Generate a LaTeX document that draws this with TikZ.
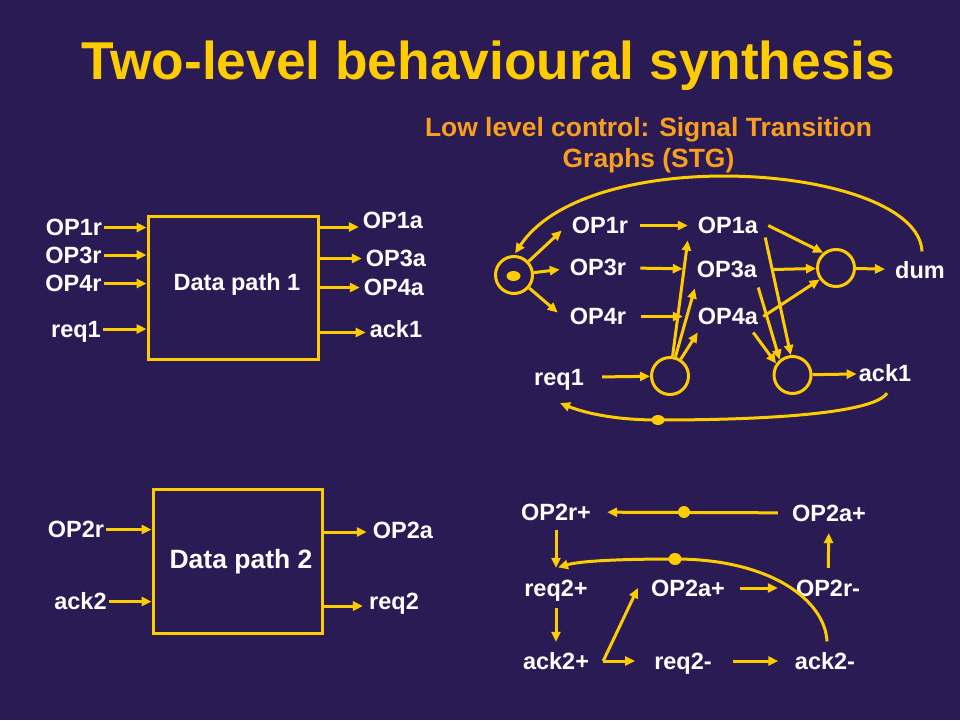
\documentclass[tikz,border=0pt]{standalone}
\usepackage{fontspec}
\setmainfont{Liberation Sans}
\usetikzlibrary{arrows.meta,calc,positioning,shapes.geometric}
\definecolor{slidebg}{RGB}{43,27,85}
\definecolor{gold}{RGB}{255,204,0}
\definecolor{subhead}{RGB}{250,160,30}
\tikzset{
  lbl/.style={text=white, font=\bfseries\fontsize{23.5}{28}\selectfont, inner sep=2pt, text height=16.8pt, text depth=0pt},
  arr/.style={draw=gold, line width=3pt, -{Triangle[length=10pt,width=9pt]}},
  place/.style={circle, draw=gold, line width=3pt, minimum size=37pt, inner sep=0pt},
  token/.style={ellipse, fill=gold, minimum width=13pt, minimum height=10pt, inner sep=0pt},
  dpbox/.style={draw=gold, line width=3pt}
}

\begin{document}
\begin{tikzpicture}[x=1pt, y=-1pt]
  \fill[slidebg] (0,0) rectangle (960,720);
  \useasboundingbox (0,0) rectangle (960,720);

  \node[text=gold, font=\bfseries\fontsize{53.3}{60}\selectfont] (title) at (488.5,66) {Two-level behavioural synthesis};
  \node[text=subhead, align=center, font=\bfseries\fontsize{26.4}{31}\selectfont] (sub) at (648.5,145) {Low level control: Signal Transition\\Graphs (STG)};

  % data path 1
  \node[dpbox, minimum width=170pt, minimum height=143pt] (dp1) at (233,287.5) {};
  \node[lbl] (dp1t) at (237,282.5) {Data path 1};

  \foreach \n/\t/\x/\y in {i1/OP1r/74/227.5, i3/OP3r/73.5/255, i4/OP4r/73.5/283.5, iq/req1/76/329} {
    \node[lbl] (\n) at (\x,\y) {\t};
    \draw[arr] (\n) -- (\n -| dp1.west);
  }

  \foreach \n/\t/\x/\y/\s in {o1/OP1a/393/220/7, o3/OP3a/396/258.5/0, o4/OP4a/394/287.5/0, ok/ack1/396/329.5/3} {
    \node[lbl] (\n) at (\x,\y) {\t};
    \draw[arr, shorten >=2pt] ($(\n.west -| dp1.east)+(0,\s)$) -- ($(\n.west)+(0,\s)$);
  }

  % data path 2
  \node[dpbox, minimum width=169pt, minimum height=144pt] (dp2) at (237.5,561) {};
  \node[lbl, font=\bfseries\fontsize{26.5}{30}\selectfont, text height=19pt] (dp2t) at (241,559) {Data path 2};

  \foreach \n/\t/\x/\y in {i2/OP2r/76/529.5, ia/ack2/80.5/601.5} {
    \node[lbl] (\n) at (\x,\y) {\t};
    \draw[arr] (\n) -- (\n -| dp2.west);
  }

  \foreach \n/\t/\x/\y/\s in {o2/OP2a/403/530.5/1.5, oq/req2/394/601.5/4.5} {
    \node[lbl] (\n) at (\x,\y) {\t};
    \draw[arr, shorten >=4pt] ($(\n.west -| dp2.east)+(0,\s)$) -- ($(\n.west)+(0,\s)$);
  }

  % STG of data path 1
  \node[place] (p0) at (514,275) {};
  \node[token, minimum width=14pt] (tk0) at (513.5,276) {};
  \node[place] (pd) at (836,268) {};
  \node[place] (pq) at (670,376) {};
  \node[place] (pk) at (792.5,375) {};

  \node[lbl] (s1r) at (600,225.5) {OP1r};
  \node[lbl] (s3r) at (598,267.5) {OP3r};
  \node[lbl] (s4r) at (598,316.5) {OP4r};
  \node[lbl] (s1a) at (728,225.5) {OP1a};
  \node[lbl] (s3a) at (727,269.5) {OP3a};
  \node[lbl] (s4a) at (728,316.5) {OP4a};
  \node[lbl] (dum) at (920,270) {dum};
  \node[lbl] (rq1) at (559,377.5) {req1};
  \node[lbl] (ak1) at (885,373.5) {ack1};

  \draw[arr] (p0) -- ([shift={(-8pt,-5pt)}]s1r.west);
  \draw[arr] (p0) -- ([shift={(-8pt,-2pt)}]s3r.west);
  \draw[arr] (p0) -- ([shift={(-10pt,4pt)}]s4r.west);

  \draw[arr, shorten <=10pt, shorten >=8pt] (s1r) -- (s1a);
  \draw[arr, shorten <=12pt, shorten >=12pt] (s3r) -- (s3a);
  \draw[arr, shorten <=13pt, shorten >=13pt] (s4r) -- (s4a);

  \draw[arr, shorten <=16pt] (rq1) -- (pq);
  \draw[arr] (pq) -- ([shift={(-8pt,-15pt)}]s1a.west);
  \draw[arr] (pq) -- ([shift={(0pt,-19pt)}]s3a.west);
  \draw[arr] (pq) -- ([shift={(2pt,-16pt)}]s4a.west);

  \draw[arr] ([xshift=8pt]s1a.east) -- (pd.130);
  \draw[arr] ([xshift=14pt]s3a.east) -- (pd);
  \draw[arr] ([xshift=3pt]s4a.east) -- (pd.215);
  \draw[arr, shorten >=8pt] (pd) -- (dum);

  \draw[arr] ([shift={(5pt,-12pt)}]s1a.east) -- (pk.95);
  \draw[arr] ([shift={(-1pt,-18pt)}]s3a.east) -- (pk.130);
  \draw[arr] ([shift={(-7pt,-16pt)}]s4a.east) -- (pk.145);
  \draw[arr] (pk) -- (ak1);

  \draw[arr, shorten >=2pt] ([shift={(2pt,8pt)}]dum.north) .. controls (918,165) and (590,140) .. (p0.north);

  \node[token] (tk1) at (658,420) {};
  \draw[arr] ([shift={(2pt,-9pt)}]ak1.south) .. controls (875,412) and (780,420) .. (tk1.center) .. controls (615,420) and (585,413) .. ([shift={(1pt,-15pt)}]rq1.south);

  % STG of data path 2
  \node[lbl] (o2rp) at (556,512) {OP2r+};
  \node[lbl] (o2at) at (829,513) {OP2a+};
  \node[lbl] (rq2p) at (556,588) {req2+};
  \node[lbl] (o2am) at (688,588) {OP2a+};
  \node[lbl] (o2rm) at (828,588) {OP2r-};
  \node[lbl] (ak2p) at (556,661) {ack2+};
  \node[lbl] (rq2m) at (683,661) {req2-};
  \node[lbl] (ak2m) at (825,661) {ack2-};

  \node[token, minimum width=12pt, minimum height=12pt] (tk2) at (684,512) {};
  \draw[arr, shorten <=12pt, shorten >=14pt] (o2at) -- (o2rp);
  \draw[arr, shorten <=7.5pt, shorten >=9.5pt] (o2rp) -- (rq2p);
  \draw[arr, shorten <=9.5pt, shorten >=8.5pt] (rq2p) -- (ak2p);

  \coordinate (fork) at ([xshift=12pt]ak2p.east);
  \draw[arr] (fork) -- ([xshift=-11pt]o2am.west);
  \draw[arr, shorten >=17pt] (fork) -- (rq2m);

  \draw[arr, shorten <=13pt, shorten >=16pt] (o2am) -- (o2rm);
  \draw[arr, shorten <=9.5pt, shorten >=9.5pt] (o2rm) -- (o2at);
  \draw[arr, shorten <=19.5pt, shorten >=14.5pt] (rq2m) -- (ak2m);

  \node[token, minimum width=13pt, minimum height=12pt] (tk3) at (675,559) {};
  \draw[arr] ([shift={(2pt,9pt)}]ak2m.north) .. controls (825,600) and (770,559) .. (tk3.center) .. controls (620,559) and (580,561) .. ([shift={(2pt,10pt)}]rq2p.north);
\end{tikzpicture}
\end{document}
